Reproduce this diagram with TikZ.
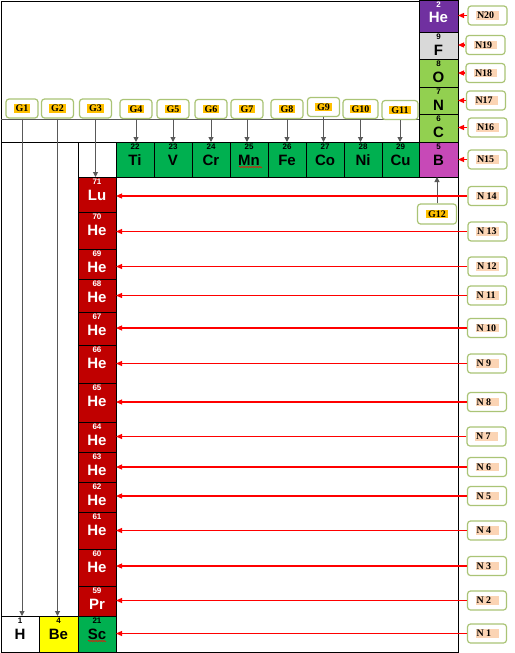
\documentclass[tikz,border=0pt]{standalone}
\usepackage{fontspec}
\setmainfont{Liberation Sans}
\newfontfamily\serfam{Liberation Serif}
\usetikzlibrary{arrows.meta,decorations.pathmorphing}
\definecolor{cpurple}{HTML}{7030A0}
\definecolor{cgray}{HTML}{D9D9D9}
\definecolor{clgreen}{HTML}{92D050}
\definecolor{cgreen}{HTML}{00B050}
\definecolor{cmag}{RGB}{199,73,183}
\definecolor{cdred}{HTML}{C00000}
\definecolor{cyel}{HTML}{FFFF00}
\definecolor{cbox}{RGB}{170,196,118}
\definecolor{cghl}{HTML}{FFC000}
\definecolor{cnhl}{RGB}{251,212,180}
\definecolor{carr}{RGB}{89,89,89}
\newcommand\elem[9]{%
  \pgfmathsetmacro\cw{#4-#2}%
  \pgfmathsetmacro\ch{#5-#3}%
  \node[cellbox, fill=#6, minimum width=\cw pt, minimum height=\ch pt] (#1) at ({(#2+#4)/2},{(#3+#5)/2}) {};
  \node[numtxt, text=#7] at ([yshift=-7pt]#1.north) {#8};
  \node[symtxt, text=#7] at ([yshift=-23pt]#1.north) {#9};
}
\newcommand\glab[1]{{\fboxsep=1pt\colorbox{cghl}{\hspace{1pt}#1\hspace{1pt}}}}
\newcommand\nlab[1]{{\fboxsep=1pt\colorbox{cnhl}{\makebox[21pt][l]{#1}}}}
\begin{document}
\begin{tikzpicture}[x=1pt,y=-1pt,
  cellbox/.style={draw=black, line width=0.8pt, inner sep=0pt, outer sep=0pt},
  numtxt/.style={anchor=base, inner sep=0pt, font=\fontsize{8}{8}\selectfont\bfseries},
  symtxt/.style={anchor=base, inner sep=0pt, font=\fontsize{15}{15}\selectfont\bfseries},
  lbox/.style={draw=cbox, line width=1.2pt, rounded corners=3pt, fill=white, inner sep=0pt,
     minimum height=19pt, font=\serfam\fontsize{10}{10}\selectfont\bfseries},
  gbox/.style={lbox, minimum width=32pt},
  nbox/.style={lbox, minimum width=39pt},
  garrow/.style={draw=carr, line width=1pt, -{Triangle[length=5pt,width=5pt]}},
  narrow/.style={draw=red, line width=1.1pt, -{Triangle[length=6pt,width=5pt]}},
  squig/.style={draw=red, line width=0.5pt, decorate, decoration={snake, amplitude=0.7pt, segment length=2.5pt}}
]
\useasboundingbox[fill=white] (0,0) rectangle (514,653);
% frame
\draw[black, line width=0.8pt] (419,1) -- (1,1) -- (1,652) -- (458,652) -- (458,0);
\draw[black, line width=0.8pt] (1,142) -- (116,142);
\draw[carr, line width=1pt] (1,119) -- (419,119);
% right column
\elem{eHe}{419}{0}{458}{32}{cpurple}{white}{2}{He}
\elem{eF}{419}{32}{458}{59}{cgray}{black}{9}{F}
\elem{eO}{419}{59}{458}{87}{clgreen}{black}{8}{O}
\elem{eN}{419}{87}{458}{114}{clgreen}{black}{7}{N}
\elem{eC}{419}{114}{458}{142}{clgreen}{black}{6}{C}
\elem{eB}{419}{142}{458}{177}{cmag}{black}{5}{B}
% transition row
\elem{eTi}{116}{142}{154}{177}{cgreen}{black}{22}{Ti}
\elem{eV}{154}{142}{192}{177}{cgreen}{black}{23}{V}
\elem{eCr}{192}{142}{230}{177}{cgreen}{black}{24}{Cr}
\elem{eMn}{230}{142}{268}{177}{cgreen}{black}{25}{Mn}
\elem{eFe}{268}{142}{306}{177}{cgreen}{black}{26}{Fe}
\elem{eCo}{306}{142}{344}{177}{cgreen}{black}{27}{Co}
\elem{eNi}{344}{142}{382}{177}{cgreen}{black}{28}{Ni}
\elem{eCu}{382}{142}{419}{177}{cgreen}{black}{29}{Cu}
\elem{eW}{78}{142}{116}{177}{white}{black}{}{}
% lanthanide column
\elem{eLu}{78}{177}{116}{212}{cdred}{white}{71}{Lu}
\elem{eS}{78}{212}{116}{249}{cdred}{white}{70}{He}
\elem{eR}{78}{249}{116}{279}{cdred}{white}{69}{He}
\elem{eQ}{78}{279}{116}{312}{cdred}{white}{68}{He}
\elem{eP}{78}{312}{116}{345}{cdred}{white}{67}{He}
\elem{eM}{78}{345}{116}{383}{cdred}{white}{66}{He}
\elem{eL}{78}{383}{116}{422}{cdred}{white}{65}{He}
\elem{eK}{78}{422}{116}{452}{cdred}{white}{64}{He}
\elem{eJ}{78}{452}{116}{482}{cdred}{white}{63}{He}
\elem{eI}{78}{482}{116}{512}{cdred}{white}{62}{He}
\elem{eG}{78}{512}{116}{549}{cdred}{white}{61}{He}
\elem{eE}{78}{549}{116}{586}{cdred}{white}{60}{He}
\elem{ePr}{78}{586}{116}{616}{cdred}{white}{59}{Pr}
% bottom row
\elem{eH}{1}{616}{39}{652}{white}{black}{1}{H}
\elem{eBe}{39}{616}{78}{652}{cyel}{black}{4}{Be}
\elem{eSc}{78}{616}{116}{652}{cgreen}{black}{21}{Sc}
% spell-check squiggles
\draw[squig] (239,167) -- (262,167);
\draw[squig] (88,641) -- (106,641);
% G labels
\node[gbox] (G1) at (22,108.5) {\glab{G1}};
\node[gbox] (G2) at (57.5,108.5) {\glab{G2}};
\node[gbox] (G3) at (95.5,108.5) {\glab{G3}};
\node[gbox] (G4) at (136,109) {\glab{G4}};
\node[gbox] (G5) at (173,109) {\glab{G5}};
\node[gbox] (G6) at (211,109) {\glab{G6}};
\node[gbox] (G7) at (247,109) {\glab{G7}};
\node[gbox] (G8) at (287,109) {\glab{G8}};
\node[gbox] (G9) at (323.5,107) {\glab{G9}};
\node[gbox, minimum width=35pt] (G10) at (360.5,109) {\glab{G10}};
\node[gbox, minimum width=36pt] (G11) at (400,110) {\glab{G11}};
\node[gbox, minimum width=39pt, minimum height=20pt] (G12) at (437,214) {\glab{G12}};
\draw[garrow] (G1.south) -- (G1.south |- eH.north);
\draw[garrow] (G2.south) -- (G2.south |- eBe.north);
\draw[garrow] (G3.south) -- (G3.south |- eLu.north);
\draw[garrow] (G4.south) -- (G4.south |- eTi.north);
\draw[garrow] (G5.south) -- (G5.south |- eV.north);
\draw[garrow] (G6.south) -- (G6.south |- eCr.north);
\draw[garrow] (G7.south) -- (G7.south |- eMn.north);
\draw[garrow] (G8.south) -- (G8.south |- eFe.north);
\draw[garrow] (G9.south) -- (G9.south |- eCo.north);
\draw[garrow] (G10.south) -- (G10.south |- eNi.north);
\draw[garrow] (G11.south) -- (G11.south |- eCu.north);
\draw[garrow] (G12.north) -- (G12.north |- eB.south);
% N labels
\node[nbox] (N20) at (487.5,15.5) {\nlab{N20}};
\node[nbox] (N19) at (485.5,45) {\nlab{N19}};
\node[nbox] (N18) at (485.5,73) {\nlab{N18}};
\node[nbox] (N17) at (486,100.5) {\nlab{N17}};
\node[nbox] (N16) at (487.5,127.5) {\nlab{N16}};
\node[nbox] (N15) at (487.5,159.5) {\nlab{N15}};
\node[nbox] (N14) at (487.5,196) {\nlab{N 14}};
\node[nbox] (N13) at (487.5,231.5) {\nlab{N 13}};
\node[nbox] (N12) at (487.5,266.5) {\nlab{N 12}};
\node[nbox] (N11) at (487,295.5) {\nlab{N 11}};
\node[nbox] (N10) at (487,328) {\nlab{N 10}};
\node[nbox] (N9) at (487,363.5) {\nlab{N 9}};
\node[nbox] (N8) at (487,402) {\nlab{N 8}};
\node[nbox] (N7) at (486.5,436.5) {\nlab{N 7}};
\node[nbox] (N6) at (487,467) {\nlab{N 6}};
\node[nbox] (N5) at (487,496) {\nlab{N 5}};
\node[nbox] (N4) at (487,530.5) {\nlab{N 4}};
\node[nbox] (N3) at (487,566) {\nlab{N 3}};
\node[nbox] (N2) at (487,600.5) {\nlab{N 2}};
\node[nbox] (N1) at (487,633.5) {\nlab{N 1}};
\draw[narrow] (N20.west) -- (N20.west -| eHe.east);
\draw[narrow] (N19.west) -- (N19.west -| eF.east);
\draw[narrow] (N18.west) -- (N18.west -| eO.east);
\draw[narrow] (N17.west) -- (N17.west -| eN.east);
\draw[narrow] (N16.west) -- (N16.west -| eC.east);
\draw[narrow] (N15.west) -- (N15.west -| eB.east);
\draw[narrow] (N14.west) -- (N14.west -| eLu.east);
\draw[narrow] (N13.west) -- (N13.west -| eS.east);
\draw[narrow] (N12.west) -- (N12.west -| eR.east);
\draw[narrow] (N11.west) -- (N11.west -| eQ.east);
\draw[narrow] (N10.west) -- (N10.west -| eP.east);
\draw[narrow] (N9.west) -- (N9.west -| eM.east);
\draw[narrow] (N8.west) -- (N8.west -| eL.east);
\draw[narrow] (N7.west) -- (N7.west -| eK.east);
\draw[narrow] (N6.west) -- (N6.west -| eJ.east);
\draw[narrow] (N5.west) -- (N5.west -| eI.east);
\draw[narrow] (N4.west) -- (N4.west -| eG.east);
\draw[narrow] (N3.west) -- (N3.west -| eE.east);
\draw[narrow] (N2.west) -- (N2.west -| ePr.east);
\draw[narrow] (N1.west) -- (N1.west -| eSc.east);
\end{tikzpicture}
\end{document}
